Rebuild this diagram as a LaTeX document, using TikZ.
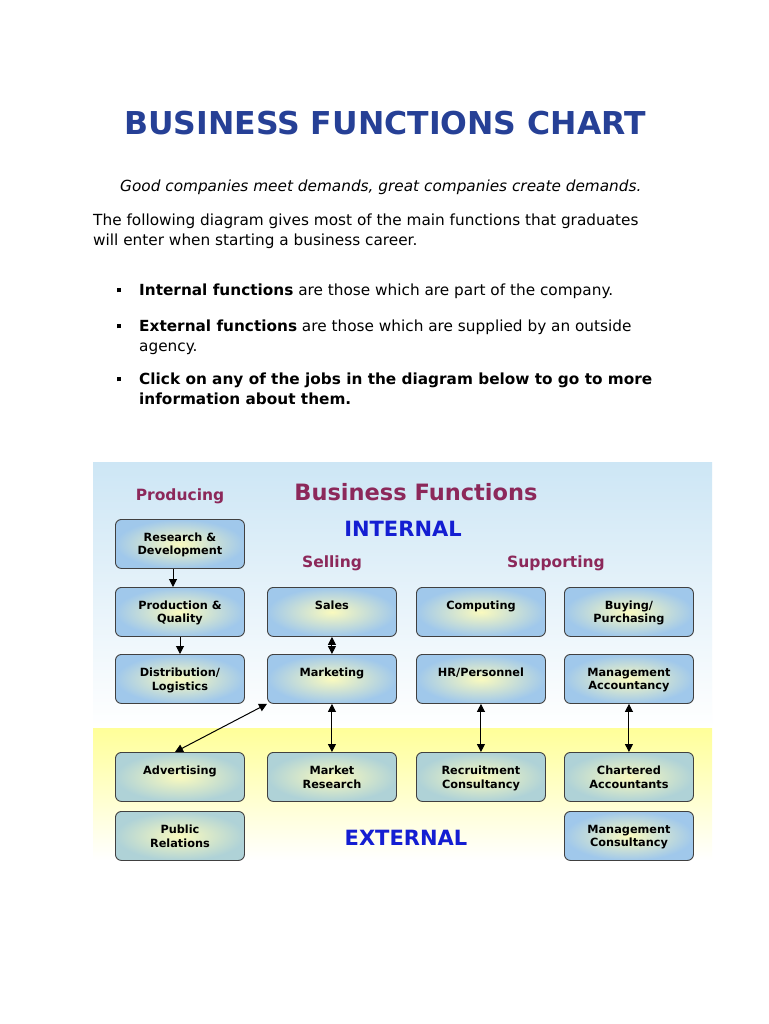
\documentclass[tikz,border=0pt]{standalone}
\usepackage{fontspec}
\setmainfont{DejaVu Sans}
\usetikzlibrary{arrows.meta}
\definecolor{ttl}{RGB}{38,64,150}
\definecolor{plum}{RGB}{140,40,90}
\definecolor{iblue}{RGB}{20,30,210}
\definecolor{bedge}{RGB}{160,200,235}
\definecolor{xedge}{RGB}{175,210,215}
\definecolor{bcore}{RGB}{250,250,190}
\definecolor{bgb}{RGB}{205,230,245}
\newcommand{\mybul}{\makebox[22pt][l]{\raisebox{3.5pt}{\rule{4pt}{4pt}}}}
\tikzset{
 fbox/.style={draw=black!75,line width=0.9pt,rounded corners=6pt,minimum width=129pt,minimum height=49pt,inner color=bcore,outer color=bedge,font=\fontsize{11.3}{13.5}\selectfont\bfseries,align=center,anchor=north west,text depth=0pt},
 xbox/.style={fbox,outer color=xedge},
 hd/.style={font=\fontsize{15.5}{18}\selectfont\bfseries,text=plum},
 lnk/.style={-{Triangle[length=8pt,width=8pt]},line width=1pt},
 blnk/.style={{Triangle[length=8pt,width=8pt]}-{Triangle[length=8pt,width=8pt]},line width=1pt},
 body/.style={font=\fontsize{15.3}{20}\selectfont,anchor=north west,align=left,inner sep=0},
}
\begin{document}
\begin{tikzpicture}[x=1pt,y=-1pt]
\useasboundingbox[fill=white] (0,0) rectangle (768,1024);
\node[font=\fontsize{31.5}{36}\selectfont\bfseries,text=ttl] (title) at (385,123) {BUSINESS FUNCTIONS CHART};
\node[body,font=\fontsize{15.3}{20}\selectfont\itshape] (quote) at (120,180) {Good companies meet demands, great companies create demands.};
\node[body] (intro) at (93,214) {The following diagram gives most of the main functions that graduates\\will enter when starting a business career.};
\node[body] (b1) at (117,284) {\mybul\textbf{Internal functions} are those which are part of the company.};
\node[body] (b2) at (117,320) {\mybul\textbf{External functions} are those which are supplied by an outside\\\hphantom{\mybul}agency.};
\node[body,font=\fontsize{15.3}{20}\selectfont\bfseries] (b3) at (117,373) {\mybul Click on any of the jobs in the diagram below to go to more\\\hphantom{\mybul}information about them.};
% background
\shade[top color=bgb,bottom color=white] (93,462) rectangle (712,728);
\shade[top color=yellow!40,bottom color=white] (93,728) rectangle (712,860);
\node[font=\fontsize{22.5}{26}\selectfont\bfseries,text=plum] (bf) at (416,492) {Business Functions};
\node[font=\fontsize{21}{24}\selectfont\bfseries,text=iblue] (int) at (403,529) {INTERNAL};
\node[font=\fontsize{21}{24}\selectfont\bfseries,text=iblue] (ext) at (406,838) {EXTERNAL};
\node[hd] (hp) at (180,496) {Producing};
\node[hd] (hs) at (332,563) {Selling};
\node[hd] (hsu) at (556,563) {Supporting};
\node[fbox] (rd) at (115,519) {Research \&\\Development};
\node[fbox] (pq) at (115,587) {Production \&\\Quality};
\node[fbox] (dl) at (115,654) {Distribution/\\Logistics};
\node[fbox] (sa) at (267,587) {Sales\\\mbox{}};
\node[fbox] (mk) at (267,654) {Marketing\\\mbox{}};
\node[fbox] (co) at (416,587) {Computing\\\mbox{}};
\node[fbox] (hr) at (416,654) {HR/Personnel\\\mbox{}};
\node[fbox] (bp) at (564,587) {Buying/\\Purchasing};
\node[fbox] (ma) at (564,654) {Management\\Accountancy};
\node[xbox] (ad) at (115,752) {Advertising\\\mbox{}};
\node[xbox] (mr) at (267,752) {Market\\Research};
\node[xbox] (rc) at (416,752) {Recruitment\\Consultancy};
\node[xbox] (ca) at (564,752) {Chartered\\Accountants};
\node[xbox] (pr) at (115,811) {Public\\Relations};
\node[fbox] (mc) at (564,811) {Management\\Consultancy};
\draw[lnk] (rd.south -| 173,0) -- (pq.north -| 173,0);
\draw[lnk] (pq.south -| 180,0) -- (dl.north -| 180,0);
\draw[blnk] (sa.south) -- (mk.north);
\draw[blnk] (mk.south) -- (mr.north);
\draw[blnk] (hr.south) -- (rc.north);
\draw[blnk] (ma.south) -- (ca.north);
\draw[blnk] (ad.north -| 175,0) -- (mk.south west);
\end{tikzpicture}
\end{document}
